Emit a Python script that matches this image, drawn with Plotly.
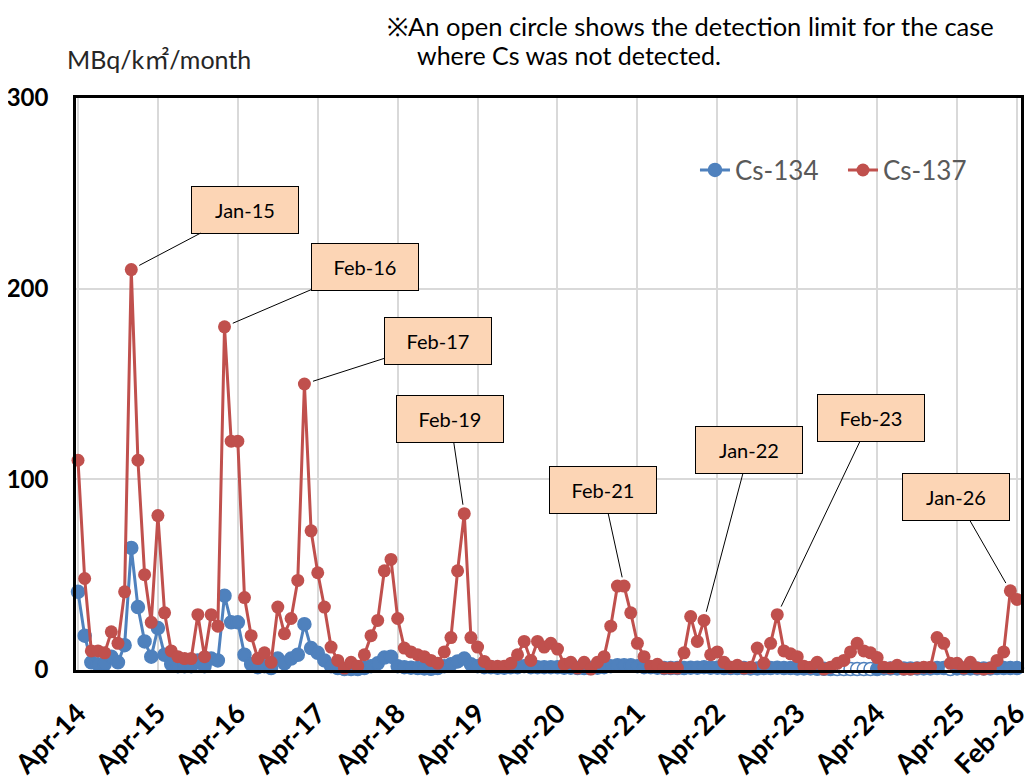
import plotly.graph_objects as go

# monthly values, first point = Apr-14 tick
tick_labels = ["Apr-14", "Apr-15", "Apr-16", "Apr-17", "Apr-18", "Apr-19", "Apr-20",
               "Apr-21", "Apr-22", "Apr-23", "Apr-24", "Apr-25", "Feb-26"]

cs134 = [41, 18, 4, 3, 3, 7, 4, 13, 64, 33, 15, 7, 22, 8, 3, 2, 2, 2, 5, 2, 6, 5, 39, 25, 25, 8, 3, 1.5, 2, 1,
         6, 3.5, 6, 8, 24, 11.5, 9, 5, 2, 1, 0.5, 0.5, 0.5, 1, 2, 3.5, 6.5, 7, 2, 1.5, 1.2, 1, 0.8, 0.6, 1, 2, 3, 4.5, 6, 3,
         2, 1.5, 1.5, 1.2, 1.2, 1.5, 1.5, 2, 1.5, 1.5, 1.5, 1.5, 1.5, 1.2, 1.2, 1, 1, 1, 1.2, 1.5, 2, 2.5, 2.5, 2.5, 2, 1.5, 1.5, 1.2, 1, 1,
         1, 1, 1.2, 1.2, 1.5, 1.2, 1.2, 1, 1, 1, 1, 0.8, 0.8, 1, 1, 1.2, 1, 1, 0.8, 0.8, 0.8, 0.6, 0.6, 0.5, 0.5, 0.5, 0.5, 0.5, 0.5, 0.5,
         0.5, 0.8, 0.8, 0.8, 0.8, 0.8, 0.8, 0.8, 0.8, 1, 1, 0.5, 0.8, 0.8, 0.8, 0.8, 0.8, 0.8, 1, 1, 1, 1]

# 1 = not detected (value is the detection limit, drawn as open circle)
cs134_nd = [0] * 114 + [1] * 6 + [0] * 11 + [1] + [0] * 10

cs137 = [110, 48, 10, 10, 9, 20, 14, 41, 210, 110, 50, 25, 81, 30, 10, 7, 6, 6, 29, 7, 29, 23, 180, 120, 120, 38, 18, 6, 9, 4,
         33, 19, 27, 47, 150, 73, 51, 33, 12, 5, 1, 4, 2, 8, 18, 26, 52, 58, 27, 11.5, 9.5, 8, 7, 5, 3.5, 9.5, 17, 52, 82, 17,
         12, 4.5, 2, 2, 2, 3.5, 8, 15, 5, 15, 12, 14, 11, 3, 4, 1, 4, 0.5, 4, 7, 23, 44, 44, 30, 14, 7, 2, 3, 1, 1,
         1, 9, 28, 15, 26, 8, 9.5, 4, 1.5, 2.5, 1, 1.5, 11.5, 3.5, 14, 29, 10, 8.5, 7, 2, 1.5, 4, 0.5, 1.5, 3.5, 5, 9.5, 14, 10, 9,
         6.5, 1.5, 1, 2.5, 0.5, 0.5, 1, 1.5, 1.5, 17, 14, 3.5, 3.5, 1, 4, 1, 0.5, 1, 5, 9.5, 41.5, 37]

peak_labels = ["Jan-15", "Feb-16", "Feb-17", "Feb-19", "Feb-21", "Jan-22", "Feb-23", "Jan-26"]
peak_index = [8, 22, 34, 58, 82, 94, 105, 140]

BLUE = "#4F81BD"
RED = "#C0504D"
FONT = "Lato, 'Open Sans', sans-serif"
CJK = "'Noto Sans CJK JP'"

n = len(cs137)
x = list(range(n))
tick_vals = list(range(0, 133, 12)) + [n - 1]

fig = go.Figure()
fig.add_trace(go.Scatter(
    x=x, y=cs134, mode="lines+markers", name="Cs-134",
    line=dict(color=BLUE, width=3),
    marker=dict(size=13, color=["white" if f else BLUE for f in cs134_nd],
                line=dict(color=BLUE, width=1.5)),
    cliponaxis=False,
))
fig.add_trace(go.Scatter(
    x=x, y=cs137, mode="lines+markers", name="Cs-137",
    line=dict(color=RED, width=3),
    marker=dict(size=13, color=RED),
    cliponaxis=False,
))

# label boxes: offsets (px) from the point to the box centre
box_offsets = [(114, -60), (140, -60), (134, -43), (-14, -95),
               (-21, -96), (45, -170), (94, -197), (-54, -94)]
for lab, idx, (ax, ay) in zip(peak_labels, peak_index, box_offsets):
    fig.add_annotation(
        x=idx, y=cs137[idx], text=lab, ax=ax, ay=ay,
        showarrow=True, arrowhead=0, arrowwidth=1, arrowcolor="black", standoff=9,
        bgcolor="#FCD5B5", bordercolor="black", borderwidth=1, borderpad=3,
        width=100, height=40, font=dict(family=FONT, size=20, color="black"),
    )

fig.add_annotation(xref="paper", yref="paper", x=-0.012, y=1.07, xanchor="left", yanchor="middle",
                   text=f"MBq/k<span style=\"font-family:{CJK}\">㎡</span>/month", showarrow=False,
                   font=dict(family=FONT, size=25, color="#262626"))
fig.add_annotation(xref="paper", yref="paper", x=0.327, y=1.156, xanchor="left", yanchor="top",
                   text="※An open circle shows the detection limit for the case", showarrow=False,
                   font=dict(family=FONT, size=25.5, color="black"))
fig.add_annotation(xref="paper", yref="paper", x=0.359, y=1.075, xanchor="left", yanchor="middle",
                   text="where Cs was not detected.", showarrow=False,
                   font=dict(family=FONT, size=25, color="black"))

# page body has an 8px margin, so the figure is 8px smaller and margins shifted
fig.update_layout(
    width=1025, height=775,
    margin=dict(l=68, r=12, t=90, b=113, autoexpand=False),
    plot_bgcolor="white", paper_bgcolor="white",
    font=dict(family=FONT),
    legend=dict(x=0.655, y=0.874, xanchor="left", yanchor="middle", orientation="h",
                entrywidth=103, entrywidthmode="pixels",
                bgcolor="rgba(0,0,0,0)", font=dict(family=FONT, size=26, color="#595959")),
    xaxis=dict(range=[-0.3, n - 1 + 0.6], tickvals=tick_vals, ticktext=tick_labels, tickangle=-45,
               tickfont=dict(family=FONT, size=27, color="black", weight="bold"),
               ticklabelstandoff=14, ticklabeloverflow="allow", automargin=False,
               showgrid=True, gridcolor="#D9D9D9", gridwidth=1.5, zeroline=False,
               showline=True, mirror=True, linecolor="black", linewidth=2.5, ticks=""),
    yaxis=dict(range=[0, 300], tickvals=[0, 100, 200, 300],
               tickfont=dict(family=FONT, size=24, color="black", weight="bold"),
               ticklabelstandoff=20, automargin=False,
               showgrid=True, gridcolor="#D9D9D9", gridwidth=1.5, zeroline=False,
               showline=True, mirror=True, linecolor="black", linewidth=2.5, ticks=""),
)

fig.write_html("out.html")
